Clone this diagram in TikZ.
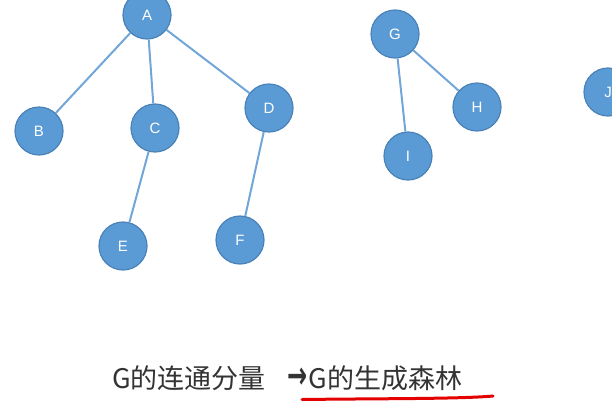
\documentclass[tikz,border=0pt]{standalone}
\usepackage{fontspec}
\setmainfont{Liberation Sans}
\newfontfamily\cjk{Noto Sans CJK SC}
\newfontfamily\symfont{DejaVu Sans}
\definecolor{nodefill}{HTML}{5B9BD5}
\definecolor{nodeline}{HTML}{4A82B8}
\definecolor{edgecol}{HTML}{72A6D8}
\definecolor{txtcol}{HTML}{333333}
\begin{document}
\begin{tikzpicture}[x=1pt,y=-1pt,
  vtx/.style={circle,fill=nodefill,draw=nodeline,line width=1.2pt,minimum size=48pt,inner sep=0pt,text=white,font=\fontsize{15}{15}\selectfont},
  edge/.style={draw=edgecol,line width=2pt}]
\useasboundingbox (0,0) rectangle (612,400);
\node[vtx] (A) at (147,15) {A};
\node[vtx] (B) at (39,131) {B};
\node[vtx] (C) at (155,128) {C};
\node[vtx] (D) at (269,108) {D};
\node[vtx] (E) at (123,246) {E};
\node[vtx] (F) at (240,240) {F};
\node[vtx] (G) at (395,34) {G};
\node[vtx] (H) at (477,107) {H};
\node[vtx] (I) at (408,156) {I};
\node[vtx] (J) at (608,92) {J};
\draw[edge] (A) -- (B);
\draw[edge] (A) -- (C);
\draw[edge] (A) -- (D);
\draw[edge] (C) -- (E);
\draw[edge] (D) -- (F);
\draw[edge] (G) -- (H);
\draw[edge] (G) -- (I);
\node[anchor=west,inner sep=0pt,text=txtcol,font=\cjk\fontsize{27}{27}\selectfont] (T) at (112,378) {G的连通分量\hspace{22pt}\scalebox{1.2}[1.9]{\symfont\bfseries\fontsize{20}{20}\selectfont →}\hspace{1pt}G的生成森林};
\coordinate (u1) at (302,399.5);
\coordinate (u2) at (493,396);
\draw[red!90!black,line width=3pt,line cap=round] (u1) .. controls (380,398.5) and (460,399) .. (u2);
\end{tikzpicture}
\end{document}
